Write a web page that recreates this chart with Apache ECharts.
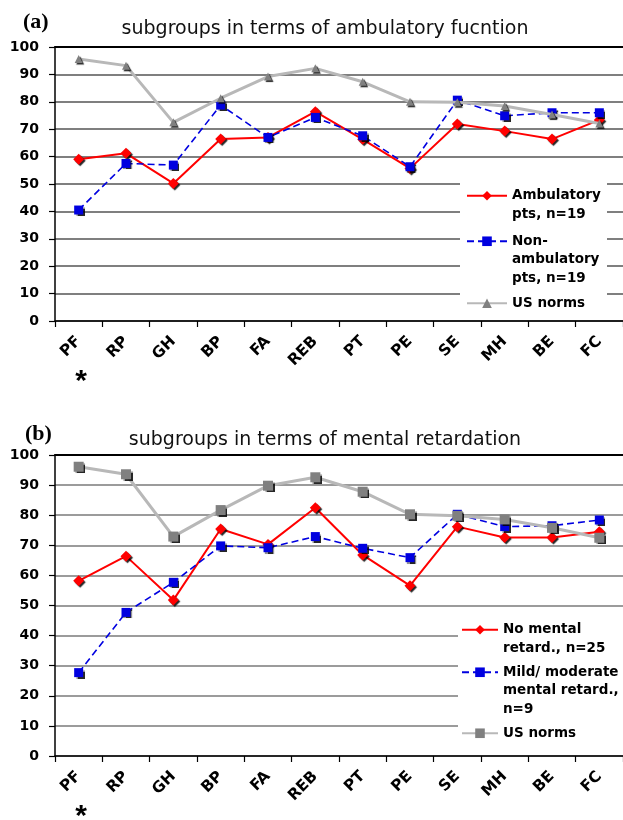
<!DOCTYPE html>
<html>
<head>
<meta charset="utf-8">
<script src="https://cdn.jsdelivr.net/npm/echarts@6/dist/echarts.min.js"></script>
<style>
  html, body { margin: 0; padding: 0; background: #fff; }
  #chart { width: 623px; height: 820px; }
</style>
</head>
<body>
<div id="chart"></div>
<script>
// ---- data ----
const categories = ['PF', 'RP', 'GH', 'BP', 'FA', 'REB', 'PT', 'PE', 'SE', 'MH', 'BE', 'FC'];
const yTicks = [0, 10, 20, 30, 40, 50, 60, 70, 80, 90, 100];

const titleA = 'subgroups in terms of ambulatory fucntion';
const nameAmb = 'Ambulatory\npts, n=19';
const nameNonAmb = 'Non-\nambulatory\npts, n=19';
const nameNormsA = 'US norms';
const ambulatory    = [59.0, 61.2, 50.2, 66.4, 67.0, 76.4, 66.3, 55.7, 71.9, 69.3, 66.4, 73.4];
const nonAmbulatory = [40.5, 57.5, 56.9, 78.8, 67.0, 74.3, 67.6, 56.3, 80.6, 74.9, 76.0, 76.0];
const usNormsA      = [95.6, 93.2, 72.5, 81.3, 89.2, 92.2, 87.3, 80.0, 79.8, 78.5, 75.4, 72.1];

const titleB = 'subgroups in terms of mental retardation';
const nameNoMR = 'No mental\nretard., n=25';
const nameMildMR = 'Mild/ moderate\nmental retard.,\nn=9';
const nameNormsB = 'US norms ';
const noMR     = [58.2, 66.4, 51.8, 75.4, 70.3, 82.5, 66.8, 56.6, 76.2, 72.6, 72.6, 74.5];
const mildMR   = [27.7, 47.7, 57.7, 69.8, 69.2, 72.9, 69.0, 65.9, 80.3, 76.2, 76.5, 78.4];
const usNormsB = [96.1, 93.6, 72.9, 81.7, 89.8, 92.6, 87.8, 80.3, 79.8, 78.6, 75.8, 72.5];

// ---- styles ----
const SANS = 'DejaVu Sans';
const shadow = { shadowColor: 'rgba(0,0,0,0.85)', shadowBlur: 1, shadowOffsetX: 1.5, shadowOffsetY: 1.5 };

function bottomAxis(grid) {
  return {
    type: 'category', gridIndex: grid, data: categories, position: 'bottom',
    axisLine: { lineStyle: { color: '#000', width: 1.5 } },
    axisTick: { show: true, length: 6, lineStyle: { color: '#000', width: 1.2 } },
    axisLabel: { interval: 0, rotate: 45, margin: 18, color: '#000',
      fontFamily: SANS, fontWeight: 'bold', fontSize: 15.5 },
    splitLine: { show: false }
  };
}
function topAxis(grid) {
  return {
    type: 'category', gridIndex: grid, data: categories, position: 'top',
    axisLine: { lineStyle: { color: '#000', width: 2 } },
    axisTick: { show: false }, axisLabel: { show: false }, splitLine: { show: false }
  };
}
function yAxis(grid, gridColor) {
  return {
    type: 'value', gridIndex: grid, min: yTicks[0], max: yTicks[yTicks.length - 1], interval: 10,
    axisLine: { show: true, lineStyle: { color: '#000', width: 1.5 } },
    axisTick: { show: true, length: 6, lineStyle: { color: '#000', width: 1.2 } },
    axisLabel: { margin: 16, color: '#000', fontFamily: SANS, fontWeight: 'bold', fontSize: 14 },
    splitLine: { show: true, lineStyle: { color: gridColor, width: 1.5 } }
  };
}
function redSeries(name, data, xi, yi) {
  return { name, type: 'line', data, xAxisIndex: xi, yAxisIndex: yi,
    symbol: 'diamond', symbolSize: 11, showSymbol: true,
    lineStyle: { color: '#ff0000', width: 2 },
    itemStyle: Object.assign({ color: '#ff0000' }, shadow), z: 2 };
}
function blueSeries(name, data, xi, yi) {
  return { name, type: 'line', data, xAxisIndex: xi, yAxisIndex: yi,
    symbol: 'rect', symbolSize: 9,
    lineStyle: { color: '#0000e0', width: 1.6, type: [7, 4] },
    itemStyle: Object.assign({ color: '#0000e0' }, shadow), z: 3 };
}
function graySeries(name, data, xi, yi, symbol, size) {
  return { name, type: 'line', data, xAxisIndex: xi, yAxisIndex: yi,
    symbol, symbolSize: size,
    lineStyle: { color: '#b8b8b8', width: 3 },
    itemStyle: Object.assign({ color: '#808080' }, shadow), z: 4 };
}
// the icon sits in the middle of the text block; leading blank lines
// put it level with the first line of a multi-line label
function legendItem(name, left, top, iconW) {
  const lines = name.split('\n').length;
  return {
    data: [name], left, top, orient: 'vertical', padding: 0,
    itemWidth: iconW, itemHeight: 12, selectedMode: false,
    formatter: (n) => '\n'.repeat(lines - 1) + n,
    textStyle: { fontFamily: SANS, fontWeight: 'bold', fontSize: 13.5, color: '#000', lineHeight: 18.5 }
  };
}

const option = {
  backgroundColor: '#fff',
  animation: false,
  title: [
    { text: '(a)', left: 18, top: 6, textStyle: { fontFamily: 'Liberation Serif', fontWeight: 'bold', fontSize: 22, color: '#000' } },
    { text: titleA, left: 320, textAlign: 'center', top: 15, textStyle: { fontFamily: SANS, fontWeight: 'normal', fontSize: 19, color: '#111' } },
    { text: '(b)', left: 20, top: 418, textStyle: { fontFamily: 'Liberation Serif', fontWeight: 'bold', fontSize: 22, color: '#000' } },
    { text: titleB, left: 320, textAlign: 'center', top: 426, textStyle: { fontFamily: SANS, fontWeight: 'normal', fontSize: 19, color: '#111' } }
  ],
  grid: [
    { left: 55, right: 0, top: 47, height: 274, containLabel: false },
    { left: 55, right: 0, top: 455, height: 301, containLabel: false }
  ],
  xAxis: [bottomAxis(0), topAxis(0), bottomAxis(1), topAxis(1)],
  yAxis: [yAxis(0, '#555'), yAxis(1, '#7a7a7a')],
  legend: [
    legendItem(nameAmb, 466, 168, 40),
    legendItem(nameNonAmb, 466, 195, 40),
    legendItem(nameNormsA, 466, 294, 40),
    legendItem(nameNoMR, 461, 602, 36),
    legendItem(nameMildMR, 461, 626, 36),
    legendItem(nameNormsB, 461, 724, 36)
  ],
  graphic: [
    { type: 'rect', z: 1, shape: { x: 460, y: 176, width: 147, height: 140 }, style: { fill: '#fff' } },
    { type: 'rect', z: 1, shape: { x: 458, y: 612, width: 165, height: 138 }, style: { fill: '#fff' } },
    { type: 'text', z: 5, x: 81, y: 382, style: { text: '*', fontFamily: 'Liberation Sans', fontWeight: 'bold', fontSize: 30, fill: '#000', align: 'center', verticalAlign: 'middle' } },
    { type: 'text', z: 5, x: 81, y: 817, style: { text: '*', fontFamily: 'Liberation Sans', fontWeight: 'bold', fontSize: 30, fill: '#000', align: 'center', verticalAlign: 'middle' } }
  ],
  series: [
    redSeries(nameAmb, ambulatory, 0, 0),
    blueSeries(nameNonAmb, nonAmbulatory, 0, 0),
    graySeries(nameNormsA, usNormsA, 0, 0, 'triangle', 8),
    redSeries(nameNoMR, noMR, 2, 1),
    blueSeries(nameMildMR, mildMR, 2, 1),
    graySeries(nameNormsB, usNormsB, 2, 1, 'rect', 10)
  ]
};

const chart = echarts.init(document.getElementById('chart'), null, { renderer: 'canvas' });
chart.setOption(option);
</script>
</body>
</html>
